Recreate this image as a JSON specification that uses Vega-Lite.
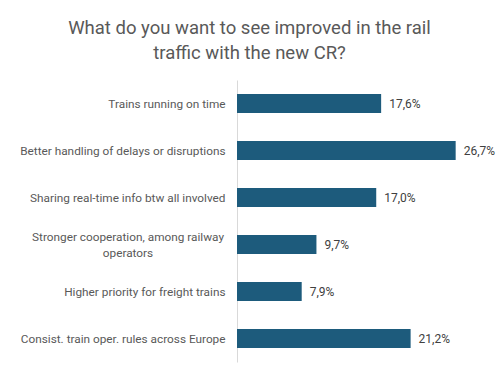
{
  "$schema": "https://vega.github.io/schema/vega-lite/v6.json",
  "width": 233,
  "height": 282,
  "autosize": {"type": "none"},
  "padding": {"left": 237, "top": 80, "right": 30, "bottom": 17},
  "background": "white",
  "config": {
    "view": {"stroke": null},
    "locale": {"number": {"decimal": ",", "thousands": ".", "grouping": [3], "currency": ["", " €"]}},
    "font": "Roboto"
  },
  "title": {
    "text": ["What do you want to see improved in the rail", "traffic with the new CR?"],
    "fontSize": 18.5,
    "fontWeight": "normal",
    "color": "#595959",
    "anchor": "middle",
    "frame": "group",
    "dx": -104,
    "offset": 18,
    "lineHeight": 25
  },
  "data": {
    "values": [
      {"item": "Trains running on time", "share": 0.176},
      {"item": "Better handling of delays or disruptions", "share": 0.267},
      {"item": "Sharing real-time info btw all involved", "share": 0.170},
      {"item": "Stronger cooperation, among railway|operators", "share": 0.097},
      {"item": "Higher priority for freight trains", "share": 0.079},
      {"item": "Consist. train oper. rules across Europe", "share": 0.212}
    ]
  },
  "encoding": {
    "y": {
      "field": "item",
      "type": "nominal",
      "sort": null,
      "scale": {"paddingInner": 0.6, "paddingOuter": 0.3},
      "axis": {
        "title": null,
        "ticks": false,
        "domainColor": "#d9d9d9",
        "domainWidth": 1,
        "labelPadding": 12,
        "labelFontSize": 11.8,
        "labelColor": "#595959",
        "labelLimit": 300,
        "labelExpr": "indexof(datum.label, '|') >= 0 ? '' : datum.label"
      }
    },
    "x": {
      "field": "share",
      "type": "quantitative",
      "scale": {"domain": [0, 0.2845], "nice": false},
      "axis": null
    }
  },
  "layer": [
    {"mark": {"type": "bar", "color": "#1d5b7c"}},
    {
      "mark": {"type": "text", "align": "left", "dx": 8, "fontSize": 12, "color": "#404040"},
      "encoding": {"text": {"field": "share", "type": "quantitative", "format": ".1%"}}
    },
    {
      "transform": [{"filter": "indexof(datum.item, '|') >= 0"}],
      "mark": {"type": "text", "align": "center", "baseline": "middle", "dx": -109, "dy": -8, "fontSize": 11.8, "color": "#595959", "lineBreak": "|", "lineHeight": 16},
      "encoding": {"x": {"datum": 0}, "text": {"field": "item"}}
    }
  ]
}
